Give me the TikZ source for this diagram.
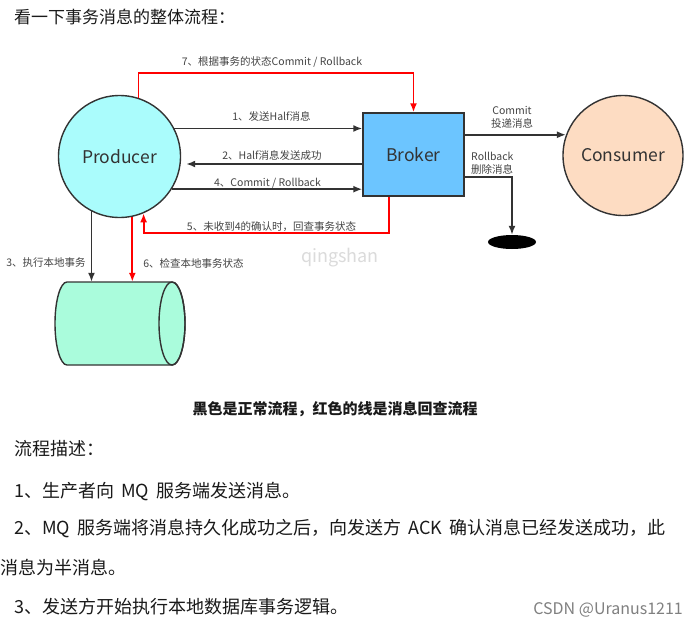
\documentclass[tikz,border=0pt]{standalone}
\usepackage{fontspec}
\setmainfont{Noto Sans CJK SC}
\usetikzlibrary{arrows.meta,shapes.geometric}
\definecolor{prodfill}{HTML}{AAFCFC}
\definecolor{brokfill}{HTML}{6CC5FF}
\definecolor{consfill}{HTML}{FDDCC2}
\definecolor{dbfill}{HTML}{AAFCDC}
\definecolor{ink}{HTML}{333333}
\definecolor{lblink}{HTML}{444444}
\definecolor{rline}{HTML}{FF0000}
\definecolor{bodyink}{HTML}{1A1A1A}
\begin{document}
\begin{tikzpicture}[x=1pt,y=-1pt,
  shapeline/.style={draw=ink, line width=1.4pt},
  blk/.style={draw=ink, line width=1.7pt, -{Latex[length=9pt,width=7pt]}},
  redl/.style={draw=rline, line width=1.8pt, -{Latex[length=9pt,width=7pt]}},
  lbl/.style={font=\fontsize{10.5}{12}\selectfont, text=lblink, inner sep=0pt},
  nodetext/.style={font=\fontsize{17.5}{20}\selectfont, text=ink},
  body/.style={font=\fontsize{18}{20}\selectfont, text=bodyink, anchor=west, inner sep=0pt},
]
\useasboundingbox (0,0) rectangle (689,630);
\fill[white] (0,0) rectangle (689,630);

% title
\node[body, font=\fontsize{17}{20}\selectfont] (title) at (14,17) {看一下事务消息的整体流程：};

% main shapes
\node[circle, shapeline, fill=prodfill, minimum size=122pt, inner sep=0pt, nodetext] (producer) at (119.5,156.5) {Producer};
\node[rectangle, shapeline, fill=brokfill, minimum width=101pt, minimum height=83pt, inner sep=0pt, nodetext] (broker) at (413.5,154.5) {Broker};
\node[circle, shapeline, fill=consfill, minimum size=120pt, inner sep=0pt, nodetext] (consumer) at (623,155.5) {Consumer};
\node[ellipse, fill=black, minimum width=48pt, minimum height=14pt, inner sep=0pt] (trash) at (512,242) {};

% database cylinder
\node[minimum width=130pt, minimum height=83pt, inner sep=0pt] (db) at (120,323.5) {};
\filldraw[shapeline, fill=dbfill] (67,282) -- (172,282)
  arc[start angle=90, end angle=-90, x radius=13pt, y radius=41.5pt] -- (67,365)
  arc[start angle=270, end angle=90, x radius=12pt, y radius=41.5pt] -- cycle;
\draw[shapeline] (172,323.5) ellipse [x radius=13pt, y radius=41.5pt];

% coordinates for bends
\coordinate (c7) at (413.5,73);
\coordinate (c5) at (389,233);

% black connectors
\draw[blk] (producer.27.3) -- (broker.west |- producer.27.3);
\draw[blk, shorten >=5pt] (broker.west |- 0,164) -- (producer.east |- 0,164);
\draw[blk] (producer.-32.7) -- (broker.west |- producer.-32.7);
\draw[blk] (producer.-117) -- (db.north -| producer.-117);
\draw[blk] (broker.east |- consumer.160.5) -- (consumer.160.5);
\draw[blk] (broker.east |- 0,177) -| (trash.north);

% red connectors
\draw[redl] (producer.72.4) |- (c7) -- (broker.north);
\draw[redl] (broker.south -| c5) -- (c5) -| (producer.-67.5);
\draw[redl] (producer.-78) -- (db.north -| producer.-78);

% connector labels
\node[lbl] (l7) at (272,62) {7、根据事务的状态Commit / Rollback};
\node[lbl] (l1) at (271.5,116) {1、发送Half消息};
\node[lbl] (l2) at (272,155) {2、Half消息发送成功};
\node[lbl] (l4) at (267.5,183) {4、Commit / Rollback};
\node[lbl] (l5) at (271.5,227) {5、未收到4的确认时，回查事务状态};
\node[lbl] (l3) at (46,263) {3、执行本地事务};
\node[lbl] (l6) at (193.5,263) {6、检查本地事务状态};
\node[lbl] (lc1) at (512,110) {Commit};
\node[lbl] (lc2) at (512,123) {投递消息};
\node[lbl, anchor=west] (lr1) at (471,156) {Rollback};
\node[lbl, anchor=west] (lr2) at (471,169) {删除消息};

% watermark name
\node[font=\fontsize{18}{20}\selectfont, text=black!14, inner sep=0pt] (wm) at (340,258) {qingshan};

% caption
\node[font=\fontsize{15}{18}\selectfont\bfseries, text=bodyink, inner sep=0pt] (caption) at (335,409) {黑色是正常流程，红色的线是消息回查流程};

% body text
\node[body] (t0) at (14,449) {流程描述：};
\node[body] (t1) at (14,491) {1、生产者向\hspace{0.4em}MQ\hspace{0.4em}服务端发送消息。};
\node[body] (t2) at (14,528) {2、MQ\hspace{0.4em}服务端将消息持久化成功之后，向发送方\hspace{0.4em}ACK\hspace{0.4em}确认消息已经发送成功，此};
\node[body] (t3) at (0,568) {消息为半消息。};
\node[body] (t4) at (14,607) {3、发送方开始执行本地数据库事务逻辑。};
\node[font=\fontsize{16}{18}\selectfont, text=black!50, anchor=east, inner sep=0pt] (csdn) at (683,610) {CSDN @Uranus1211};
\end{tikzpicture}
\end{document}
